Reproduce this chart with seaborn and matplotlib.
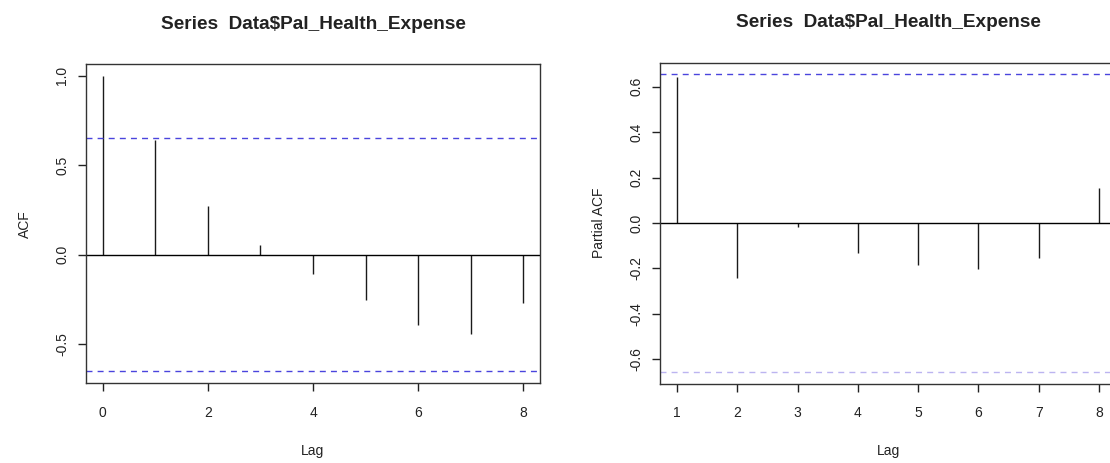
import numpy as np
import pandas as pd
import matplotlib
matplotlib.use("Agg")
import matplotlib.pyplot as plt
import seaborn as sns

# values (R acf / pacf output, n = 9)
acf_lags = [0, 1, 2, 3, 4, 5, 6, 7, 8]
acf_vals = [1.0, 0.642, 0.27, 0.052, -0.106, -0.256, -0.394, -0.442, -0.268]
pacf_lags = [1, 2, 3, 4, 5, 6, 7, 8]
pacf_vals = [0.640, -0.243, -0.019, -0.133, -0.184, -0.203, -0.155, 0.155]
n_obs = 9
conf = 1.96 / np.sqrt(n_obs)

title = "Series  Data$Pal_Health_Expense"
acf_yticks = [-0.5, 0.0, 0.5, 1.0]
pacf_yticks = [-0.6, -0.4, -0.2, 0.0, 0.2, 0.4, 0.6]

sns.set_theme(style="white")
plt.rcParams["font.family"] = ["Liberation Sans", "DejaVu Sans"]
plt.rcParams["axes.unicode_minus"] = False

fig = plt.figure(figsize=(11.1, 4.63), dpi=100)
ax1 = fig.add_axes([86 / 1110, 1 - 383.3 / 463, 454 / 1110, 319.3 / 463])
ax2 = fig.add_axes([660 / 1110, 1 - 383.5 / 463, 456 / 1110, 321 / 463])


def r_range(vals):
    lo, hi = min(vals), max(vals)
    ext = (hi - lo) * 0.04
    return lo - ext, hi + ext


def corr_panel(ax, lags, vals, ylab, yticks, xticks, low_col, ylabpad):
    df = pd.DataFrame({"lag": lags, "r": vals})
    ax.vlines(df["lag"], 0, df["r"], color="#1a1a1a", lw=1.0)
    ax.axhline(0, color="black", lw=1.0)
    ax.axhline(conf, color="#4a44dd", lw=1.0, dashes=(4.3, 3.7))
    ax.axhline(-conf, color=low_col, lw=1.0, dashes=(4.3, 3.7))
    ax.set_xlim(*r_range(lags))
    ax.set_ylim(*r_range(list(vals) + [conf, -conf]))
    ax.set_xticks(xticks)
    ax.set_yticks(yticks)
    ax.set_yticklabels([f"{t:.1f}" for t in yticks], rotation=90, va="center")
    ax.tick_params(axis="both", direction="out", length=6, width=1.0,
                   bottom=True, left=True,
                   color="#222222", labelsize=10, labelcolor="#222222")
    ax.tick_params(axis="x", pad=10.5)
    ax.tick_params(axis="y", pad=6)
    for sp in ax.spines.values():
        sp.set_color("#333333")
        sp.set_linewidth(1.0)
    ax.set_xlabel("Lag", fontsize=10, labelpad=17, color="#222222")
    ax.set_ylabel(ylab, fontsize=10, labelpad=ylabpad, color="#222222")
    ax.set_title(title, fontsize=13.7, fontweight="bold", pad=25.5, color="#222222")


corr_panel(ax1, acf_lags, acf_vals, "ACF", acf_yticks, [0, 2, 4, 6, 8],
           "#4a44dd", 17)
corr_panel(ax2, pacf_lags, pacf_vals, "Partial ACF", pacf_yticks,
           [1, 2, 3, 4, 5, 6, 7, 8], "#bcb4f0", 17)

fig.savefig("out.png", dpi=100, facecolor="white")
